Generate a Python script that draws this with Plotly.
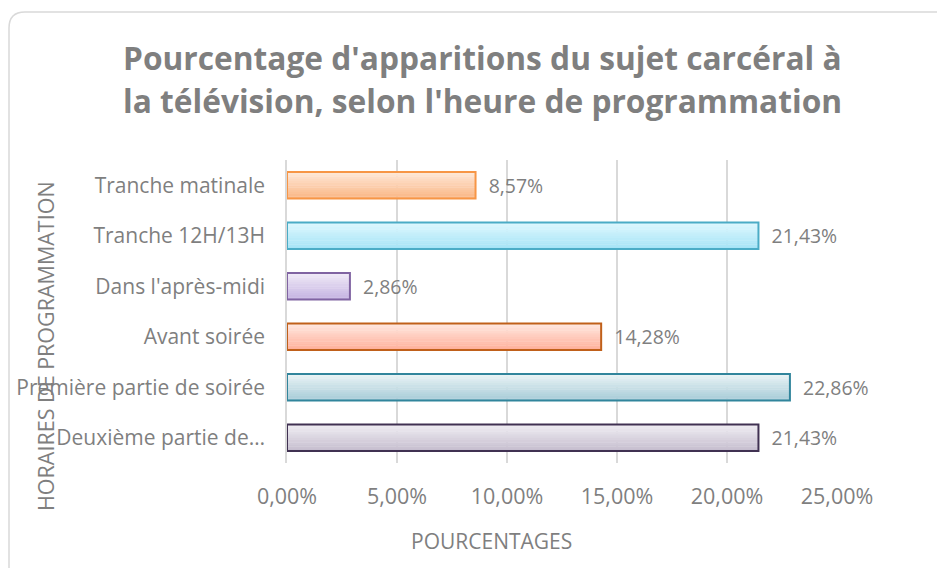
import plotly.graph_objects as go

# chart data
categories = ["Tranche matinale", "Tranche 12H/13H", "Dans l'après-midi", "Avant soirée",
              "Première partie de soirée", "Deuxième partie de…"]
values = [0.0857, 0.2143, 0.0286, 0.1428, 0.2286, 0.2143]
tick_vals = [0, 0.05, 0.10, 0.15, 0.20, 0.25]

# bar styles: gradient top / bottom colours and border colour
tops = ["#FEE7D6", "#DDF7FE", "#EFE9F7", "#FFE6DE", "#E8F2F5", "#EEEBF1"]
bottoms = ["#FAB888", "#A6E4F6", "#C6B5E2", "#FFB19C", "#A9CDD8", "#C6BECF"]
borders = ["#F79646", "#4BACC6", "#8064A2", "#C0601A", "#31859C", "#403152"]

W, H = 945, 568
O = 8  # page body margin shifts the figure
L, R, T, B = 287 - O, 116, 160 - O, 113
PW, PH = W - L - R, H - T - B
GRAY = "#7F7F7F"
FONT = "Open Sans"
BAR_W = 0.52
N_SLICES = 12


def px(x):
    return (x - O - L) / PW


def py(y):
    return (H - B - (y - O)) / PH


def mix(c1, c2, t):
    a = [int(c1[i:i + 2], 16) for i in (1, 3, 5)]
    b = [int(c2[i:i + 2], 16) for i in (1, 3, 5)]
    return "rgb(%d,%d,%d)" % tuple(round(a[j] + (b[j] - a[j]) * t) for j in range(3))


fig = go.Figure()
# gradient fill drawn as thin horizontal slices of each bar
sw = BAR_W / N_SLICES
for k in range(N_SLICES):
    t = k / (N_SLICES - 1)
    fig.add_bar(
        y=categories, x=values, orientation="h",
        width=sw * 1.15, offset=-BAR_W / 2 + k * sw,
        marker=dict(color=[mix(a, b, t) for a, b in zip(tops, bottoms)], line=dict(width=0)),
        hoverinfo="skip",
    )
# outline + labels
fig.add_bar(
    y=categories, x=values, orientation="h",
    width=BAR_W, offset=-BAR_W / 2,
    marker=dict(color="rgba(0,0,0,0)", line=dict(color=borders, width=2)),
    texttemplate="  %{x:.2%}", textposition="outside",
    textfont=dict(family=FONT, size=21.5, color=GRAY),
    cliponaxis=False, hoverinfo="skip",
)

# frame of the chart (rounded corner top-left)
r = 16
frame = (f"M {px(9)} {py(H + 20)} L {px(9)} {py(12 + r)} "
         f"Q {px(9)} {py(12)} {px(9 + r)} {py(12)} L {px(W + 20)} {py(12)}")
fig.add_shape(type="path", path=frame, xref="paper", yref="paper",
              line=dict(color="#D9D9D9", width=1.5), layer="below")

title_lines = ["Pourcentage d'apparitions du sujet carcéral à",
               "la télévision, selon l'heure de programmation"]
for i, line in enumerate(title_lines):
    fig.add_annotation(text=line, x=px(482), y=py(57 + 43 * i), xref="paper", yref="paper",
                       showarrow=False, xanchor="center", yanchor="middle",
                       font=dict(family=FONT, size=31.7, color=GRAY, weight="bold"))

fig.add_annotation(text="POURCENTAGES", x=px(491), y=py(541), xref="paper", yref="paper",
                   showarrow=False, xanchor="center", yanchor="middle",
                   font=dict(family=FONT, size=21, color=GRAY))
fig.add_annotation(text="HORAIRES DE PROGRAMMATION", x=px(45), y=py(346), xref="paper", yref="paper",
                   showarrow=False, textangle=-90, xanchor="center", yanchor="middle",
                   font=dict(family=FONT, size=21.5, color=GRAY))

fig.update_layout(
    width=W, height=H,
    margin=dict(l=L, r=R, t=T, b=B),
    paper_bgcolor="white", plot_bgcolor="white",
    separators=", ",
    showlegend=False,
    barmode="overlay",
    xaxis=dict(range=[0, 0.25], tickvals=tick_vals, tickformat=".2%", automargin=False,
               showgrid=True, gridcolor="#D9D9D9", gridwidth=1.5, zeroline=False,
               showline=False, ticks="outside", ticklen=14, tickcolor="rgba(0,0,0,0)",
               tickfont=dict(family=FONT, size=21.5, color=GRAY)),
    yaxis=dict(autorange="reversed", showgrid=False, showline=True, linecolor="#D9D9D9",
               linewidth=1.5, ticks="outside", ticklen=16, tickcolor="rgba(0,0,0,0)",
               automargin=False, tickfont=dict(family=FONT, size=21, color=GRAY)),
)

fig.write_html("out.html")
